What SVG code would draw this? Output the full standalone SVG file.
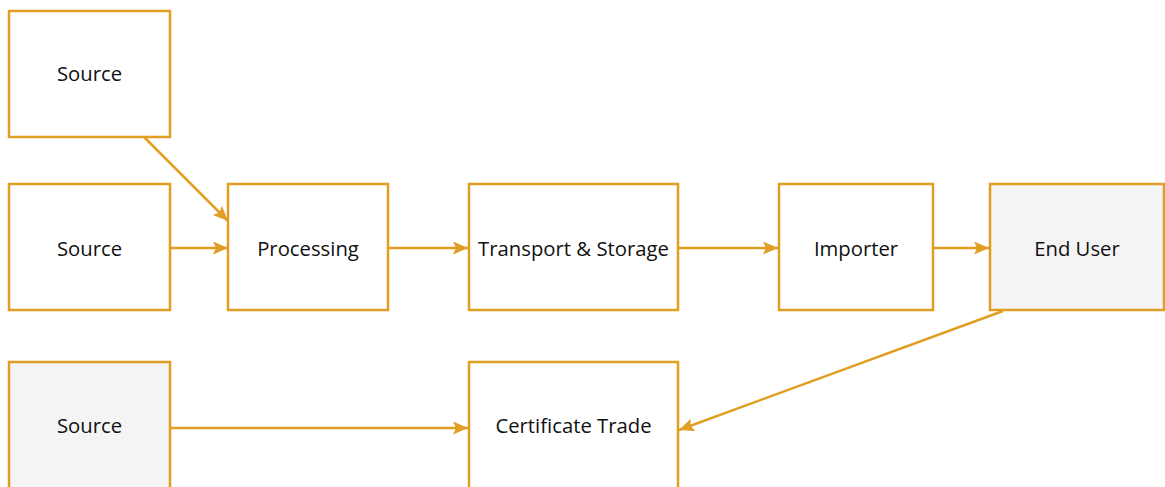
<svg xmlns="http://www.w3.org/2000/svg" width="1165" height="487" viewBox="0 0 1165 487">
<style>
.box{fill:#ffffff;stroke:#E09E22;stroke-width:2.5}
.grey{fill:#F4F4F4}
.lbl{font-family:"Open Sans","Liberation Sans",sans-serif;font-size:20.3px;fill:#111111;text-anchor:middle;dominant-baseline:central}
.conn{fill:none;stroke:#E09E22;stroke-width:2.5}
</style>
<defs>
<marker id="arr" markerUnits="userSpaceOnUse" markerWidth="18" markerHeight="14" refX="15" refY="6.5" orient="auto">
<path d="M0,0 L15,6.5 L0,13 L3,6.5 z" fill="#E09E22"/>
</marker>
</defs>
<rect width="1165" height="487" fill="#ffffff"/>
<g id="connectors">
<line class="conn" x1="144" y1="137" x2="228" y2="221" marker-end="url(#arr)"/>
<line class="conn" x1="170" y1="248" x2="228" y2="248" marker-end="url(#arr)"/>
<line class="conn" x1="388" y1="248" x2="468" y2="248" marker-end="url(#arr)"/>
<line class="conn" x1="678" y1="248" x2="778" y2="248" marker-end="url(#arr)"/>
<line class="conn" x1="933" y1="248" x2="989" y2="248" marker-end="url(#arr)"/>
<line class="conn" x1="170" y1="428" x2="468" y2="428" marker-end="url(#arr)"/>
<line class="conn" x1="1003" y1="311" x2="679" y2="430" marker-end="url(#arr)"/>
</g>
<g id="source1"><rect class="box" x="9" y="11" width="161" height="126"/><text class="lbl" x="89.5" y="73">Source</text></g>
<g id="source2"><rect class="box" x="9" y="184" width="161" height="126"/><text class="lbl" x="89.5" y="248">Source</text></g>
<g id="processing"><rect class="box" x="228" y="184" width="160" height="126"/><text class="lbl" x="308" y="248">Processing</text></g>
<g id="transport"><rect class="box" x="469" y="184" width="209" height="126"/><text class="lbl" x="573.5" y="248">Transport &amp; Storage</text></g>
<g id="importer"><rect class="box" x="779" y="184" width="154" height="126"/><text class="lbl" x="856" y="248">Importer</text></g>
<g id="enduser"><rect class="box grey" x="990" y="184" width="174" height="126"/><text class="lbl" x="1077" y="248">End User</text></g>
<g id="source3"><rect class="box grey" x="9" y="362" width="161" height="140"/><text class="lbl" x="89.5" y="425">Source</text></g>
<g id="certificate"><rect class="box" x="469" y="362" width="209" height="140"/><text class="lbl" x="573.5" y="425">Certificate Trade</text></g>
</svg>
